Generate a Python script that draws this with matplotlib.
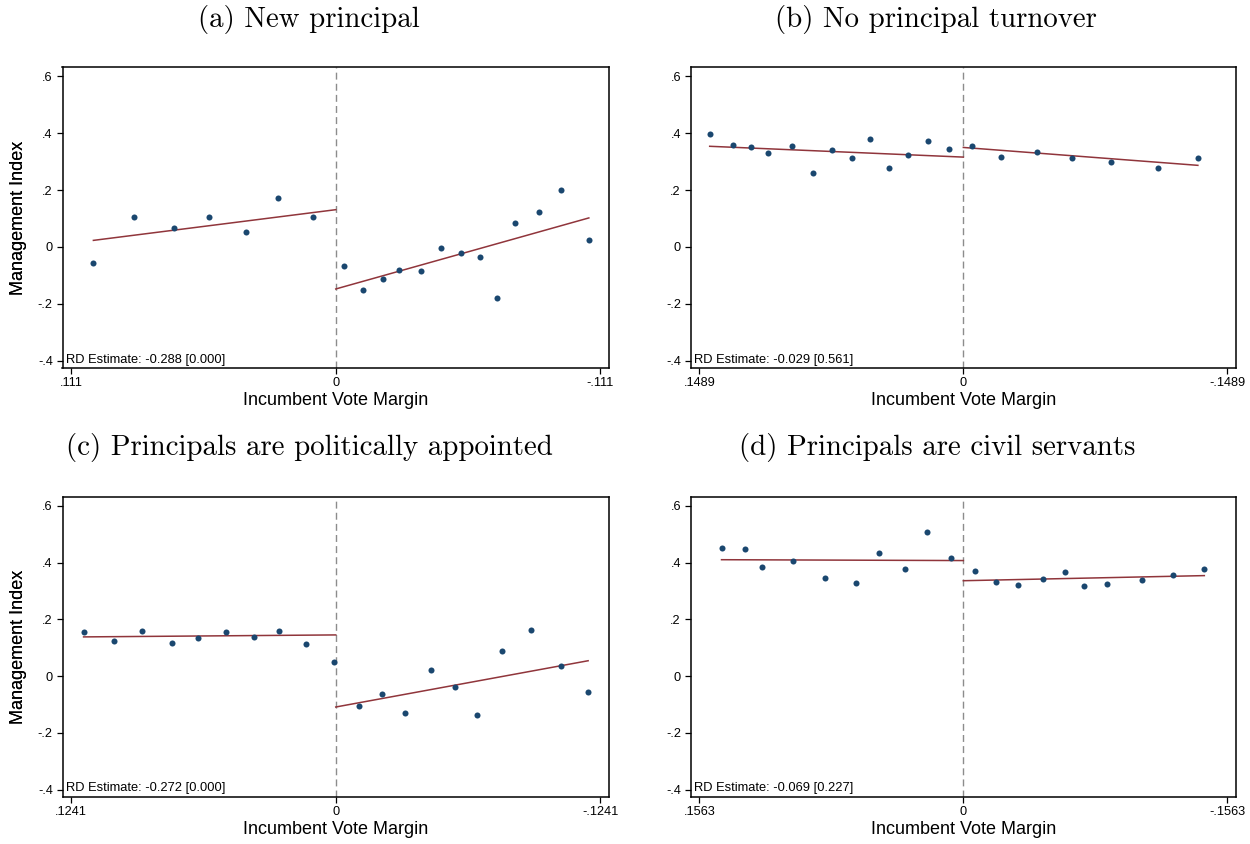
import matplotlib
matplotlib.use("Agg")
import matplotlib.pyplot as plt
import numpy as np

# ---------------- data: binned means of the management index ----------------
# (a) New principal
a_bw = 0.111
a_left_x = [0.1017, 0.0846, 0.0680, 0.0531, 0.0377, 0.0241, 0.0095]
a_left_y = [-0.057, 0.106, 0.065, 0.106, 0.054, 0.172, 0.106]
a_right_x = [-0.0033, -0.0114, -0.0197, -0.0267, -0.0357, -0.0443, -0.0526,
             -0.0604, -0.0677, -0.0752, -0.0851, -0.0946, -0.1062]
a_right_y = [-0.066, -0.150, -0.113, -0.080, -0.083, -0.004, -0.022,
             -0.034, -0.178, 0.083, 0.123, 0.199, 0.023]
a_fit_left = (0.131, -1.062)    # (value at cutoff, slope)
a_fit_right = (-0.148, -2.354)
a_rd = "RD Estimate: -0.288 [0.000]"

# (b) No principal turnover
b_bw = 0.1489
b_left_x = [0.1431, 0.1300, 0.1199, 0.1100, 0.0968, 0.0851, 0.0741,
            0.0629, 0.0526, 0.0418, 0.0310, 0.0202, 0.0083]
b_left_y = [0.398, 0.360, 0.350, 0.332, 0.354, 0.259, 0.340,
            0.313, 0.379, 0.277, 0.325, 0.372, 0.344]
b_right_x = [-0.0047, -0.0211, -0.0413, -0.0615, -0.0831, -0.1096, -0.1323]
b_right_y = [0.354, 0.317, 0.335, 0.313, 0.298, 0.279, 0.313]
b_fit_left = (0.316, 0.266)
b_fit_right = (0.350, 0.476)
b_rd = "RD Estimate: -0.029 [0.561]"

# (c) Principals are politically appointed
c_bw = 0.1241
c_left_x = [0.1183, 0.1038, 0.0910, 0.0769, 0.0648, 0.0514, 0.0382,
            0.0267, 0.0141, 0.0006]
c_left_y = [0.157, 0.125, 0.160, 0.116, 0.133, 0.157, 0.137,
            0.158, 0.114, 0.049]
c_right_x = [-0.0111, -0.0215, -0.0323, -0.0446, -0.0561, -0.0665, -0.0780,
             -0.0917, -0.1058, -0.1184]
c_right_y = [-0.104, -0.062, -0.131, 0.020, -0.037, -0.137, 0.088,
             0.164, 0.037, -0.057]
c_fit_left = (0.145, -0.059)
c_fit_right = (-0.109, -1.377)
c_rd = "RD Estimate: -0.272 [0.000]"

# (d) Principals are civil servants
d_bw = 0.1563
d_left_x = [0.1432, 0.1295, 0.1194, 0.1010, 0.0821, 0.0637, 0.0500,
            0.0347, 0.0215, 0.0073]
d_left_y = [0.453, 0.447, 0.386, 0.405, 0.345, 0.329, 0.434,
            0.379, 0.507, 0.417]
d_right_x = [-0.0068, -0.0191, -0.0326, -0.0472, -0.0599, -0.0712, -0.0849,
             -0.1057, -0.1241, -0.1427]
d_right_y = [0.369, 0.333, 0.322, 0.342, 0.365, 0.317, 0.326,
             0.340, 0.357, 0.377]
d_fit_left = (0.407, 0.021)
d_fit_right = (0.336, -0.126)
d_rd = "RD Estimate: -0.069 [0.227]"

titles = ["(a) New principal", "(b) No principal turnover",
          "(c) Principals are politically appointed",
          "(d) Principals are civil servants"]
y_ticks = [-0.4, -0.2, 0.0, 0.2, 0.4, 0.6]
y_ticklabels = ["-.4", "-.2", "0", ".2", ".4", ".6"]

panels = [
    (a_bw, a_left_x, a_left_y, a_right_x, a_right_y, a_fit_left, a_fit_right, a_rd),
    (b_bw, b_left_x, b_left_y, b_right_x, b_right_y, b_fit_left, b_fit_right, b_rd),
    (c_bw, c_left_x, c_left_y, c_right_x, c_right_y, c_fit_left, c_fit_right, c_rd),
    (d_bw, d_left_x, d_left_y, d_right_x, d_right_y, d_fit_left, d_fit_right, d_rd),
]

# ---------------- styling ----------------
NAVY = "#1a476f"
MAROON = "#90353b"
SANS = ["Liberation Sans", "DejaVu Sans"]
SERIF = ["cmr10", "DejaVu Serif"]
plt.rcParams["axes.unicode_minus"] = False

W, H = 1250, 844
fig = plt.figure(figsize=(W / 100, H / 100), dpi=100)
fig.patch.set_facecolor("white")

# axes boxes in pixels: (left, top, right, bottom)
boxes = [(62.5, 67.3, 609, 367.7), (690.7, 67.3, 1236, 367.7),
         (62.5, 496.7, 609, 796.7), (690.7, 496.7, 1236, 796.7)]
# title centre x and baseline y, in pixels
title_pos = [(309, 27.5), (936, 27.5), (309, 455.5), (937, 455.5)]


def fmt_edge(v):
    s = f"{v:.4f}".rstrip("0")
    return s[1:] if s.startswith("0") else s


def px(x, y):
    return x / W, 1 - y / H


for i, (bw, lx, ly, rx, ry, fl, fr, rd) in enumerate(panels):
    l, t, r, b = boxes[i]
    ax = fig.add_axes([l / W, 1 - b / H, (r - l) / W, (b - t) / H])

    ax.axvline(0, color="#8c8c8c", lw=1.0, ls=(0, (5, 3)), zorder=1)

    # fitted lines on each side of the cutoff
    xl = np.array([max(lx), 0.0])
    ax.plot(xl, fl[0] + fl[1] * xl, color=MAROON, lw=1.1, zorder=2)
    xr = np.array([0.0, min(rx)])
    ax.plot(xr, fr[0] + fr[1] * xr, color=MAROON, lw=1.1, zorder=2)

    ax.scatter(lx, ly, s=19, color=NAVY, zorder=3, linewidths=0)
    ax.scatter(rx, ry, s=19, color=NAVY, zorder=3, linewidths=0)

    ax.set_xlim(bw * 1.033, -bw * 1.033)
    ax.set_ylim(-0.425, 0.632)
    ax.set_xticks([bw, 0, -bw])
    lab = fmt_edge(bw)
    ax.set_xticklabels([lab, "0", "-" + lab])
    ax.set_yticks(y_ticks)
    ax.set_yticklabels(y_ticklabels)

    for lbl in ax.get_xticklabels() + ax.get_yticklabels():
        lbl.set_family(SANS)
        lbl.set_fontsize(9.2)
    ax.tick_params(direction="out", length=4.5, width=0.9, pad=2.5, color="black")
    for sp in ax.spines.values():
        sp.set_linewidth(1.1)
        sp.set_color("black")

    # RD estimate note in the lower-left corner of the plot region
    ax.text(3 / (r - l), 5.2 / (b - t), rd, transform=ax.transAxes,
            family=SANS, fontsize=9.3, ha="left", va="baseline")

    # axis titles
    fig.text(*px(18.8, (t + b) / 2), "Management Index", family=SANS,
             fontsize=13, rotation=90, ha="center", va="center")
    fig.text(*px((l + r) / 2, b + 32.5), "Incumbent Vote Margin", family=SANS,
             fontsize=13, ha="center", va="center")

    tx, ty = title_pos[i]
    fig.text(*px(tx, ty), titles[i], family=SERIF, fontsize=20.8,
             ha="center", va="baseline")

fig.savefig("out.png", dpi=100, facecolor="white")
